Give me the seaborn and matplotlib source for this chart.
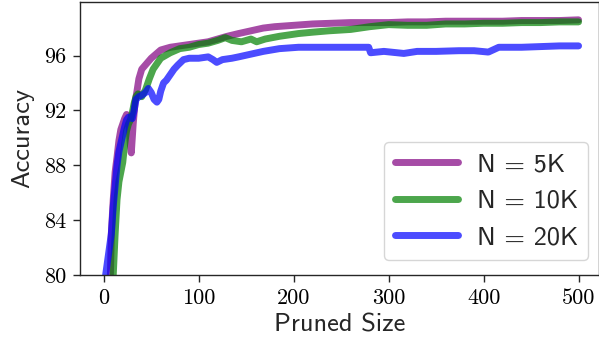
import numpy as np
import pandas as pd
import matplotlib
matplotlib.use("Agg")
import matplotlib.pyplot as plt
import seaborn as sns

# ---- data ----
x_5k = [7, 8, 10, 12, 14, 16, 18, 20, 22, 24, 26, 28, 29, 31, 33, 35, 37, 40, 45, 50,
        55, 60, 65, 70, 80, 90, 100, 110, 120, 130, 142, 155, 168, 180, 200, 220, 240,
        260, 280, 300, 320, 340, 360, 380, 400, 420, 440, 460, 480, 500]
y_5k = [80.0, 83.0, 85.5, 87.5, 88.6, 89.8, 90.6, 91.0, 91.4, 91.7, 91.6, 89.5, 88.9, 91.0,
        92.6, 93.4, 94.3, 95.0, 95.4, 95.8, 96.1, 96.4, 96.5, 96.6, 96.7, 96.8, 96.9, 97.0,
        97.2, 97.4, 97.6, 97.8, 98.0, 98.1, 98.2, 98.3, 98.35, 98.4, 98.4, 98.4, 98.45,
        98.45, 98.5, 98.5, 98.5, 98.5, 98.55, 98.55, 98.55, 98.6]

x_10k = [10, 11, 12, 14, 16, 18, 20, 22, 24, 26, 28, 30, 32, 34, 36, 40, 44, 48, 52, 56,
         60, 65, 70, 80, 90, 100, 110, 120, 128, 135, 145, 155, 161, 170, 185, 205, 220,
         237, 260, 280, 300, 320, 340, 360, 380, 400, 420, 440, 460, 480, 500]
y_10k = [80.0, 81.5, 83.0, 85.5, 86.8, 87.5, 88.2, 89.5, 90.5, 91.0, 91.3, 91.8, 92.5, 93.0,
         93.2, 93.0, 93.5, 94.3, 95.0, 95.4, 95.8, 96.0, 96.2, 96.5, 96.6, 96.8, 96.9, 97.1,
         97.3, 97.1, 97.0, 97.2, 97.0, 97.2, 97.4, 97.6, 97.7, 97.8, 97.9, 98.1, 98.25,
         98.2, 98.2, 98.3, 98.3, 98.35, 98.35, 98.4, 98.4, 98.45, 98.45]

x_20k = [2, 4, 6, 8, 10, 12, 14, 16, 18, 20, 22, 24, 26, 28, 30, 32, 34, 37, 40, 44, 47,
         50, 53, 56, 58, 60, 63, 66, 70, 74, 78, 84, 90, 100, 110, 115, 119, 125, 135,
         142, 155, 168, 185, 205, 220, 237, 250, 265, 279, 281, 295, 316, 330, 350, 374,
         390, 405, 416, 440, 460, 480, 500]
y_20k = [80.0, 81.0, 82.0, 83.0, 85.0, 86.5, 88.0, 89.0, 89.6, 90.2, 90.8, 91.3, 91.5, 91.5,
         91.4, 92.0, 92.8, 93.0, 93.1, 93.3, 93.6, 93.3, 92.8, 92.6, 92.8, 93.4, 94.0, 94.2,
         94.6, 95.0, 95.3, 95.7, 95.8, 95.8, 95.9, 95.7, 95.5, 95.7, 95.8, 95.9, 96.1, 96.3,
         96.5, 96.6, 96.6, 96.6, 96.6, 96.6, 96.6, 96.2, 96.3, 96.15, 96.3, 96.3, 96.35,
         96.35, 96.25, 96.6, 96.6, 96.65, 96.7, 96.7]

labels = ["N = 5K", "N = 10K", "N = 20K"]
colors = ["purple", "green", "blue"]
x_ticks = [0, 100, 200, 300, 400, 500]
y_ticks = [80, 84, 88, 92, 96]

df = pd.concat([
    pd.DataFrame({"size": x_5k, "acc": y_5k, "N": labels[0]}),
    pd.DataFrame({"size": x_10k, "acc": y_10k, "N": labels[1]}),
    pd.DataFrame({"size": x_20k, "acc": y_20k, "N": labels[2]}),
], ignore_index=True)

sns.set_style("ticks")
plt.rcParams["axes.edgecolor"] = "#262626"
plt.rcParams["axes.linewidth"] = 1.0

fig = plt.figure(figsize=(5.99, 3.44), dpi=100)
ax = fig.add_axes([80 / 599, 1 - 275 / 344, 518.5 / 599, 273 / 344])

sns.lineplot(data=df, x="size", y="acc", hue="N", hue_order=labels,
             palette=dict(zip(labels, colors)), linewidth=5, alpha=0.7,
             estimator=None, sort=False, legend=False, ax=ax)

ax.set_xlim(-25, 521)
ax.set_ylim(80, 99.9)
ax.set_xticks(x_ticks)
ax.set_yticks(y_ticks)
ax.set_xticklabels([str(v) for v in x_ticks], fontfamily="cmr10", fontsize=16)
ax.set_yticklabels([str(v) for v in y_ticks], fontfamily="cmr10", fontsize=16)
ax.tick_params(direction="out", length=5, width=1, colors="#262626",
               labelcolor="black", pad=5)
for s in ax.spines.values():
    s.set_visible(True)

ax.set_xlabel("Pruned Size", fontfamily="cmss10", fontsize=19, labelpad=4)
ax.set_ylabel("Accuracy", fontfamily="cmss10", fontsize=19, labelpad=7)

leg = ax.legend(ax.lines[:3], labels, loc="lower right",
                bbox_to_anchor=(1 - 10 / 518, 15 / 273), borderaxespad=0,
                prop={"family": "cmss10", "size": 19}, handlelength=2.4,
                handletextpad=0.7, frameon=True, fancybox=True)
leg.get_frame().set_edgecolor("#cccccc")
leg.get_frame().set_linewidth(1.0)

fig.savefig("out.png", dpi=100)
